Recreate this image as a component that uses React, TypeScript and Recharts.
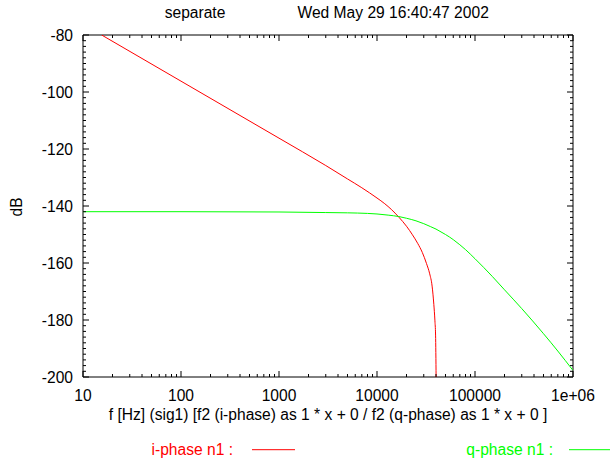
import { LineChart, Line, XAxis, YAxis, Legend, ReferenceArea } from "recharts";

// i-phase n1 (red)
const iPhaseFreq = [
  15.5, 100, 1000, 3000, 5000, 7000, 10000, 12000, 14000, 16700, 20000, 23000, 26000, 29000, 32000,
  34500, 36500, 38000, 39000, 39600, 40100,
];
const iPhaseDb = [
  -80, -96.2, -116.2, -125.8, -130.5, -133.6, -137.2, -139.2, -141.2, -143.9, -147.1, -150.1, -153.1, -156.3, -160.2,
  -163.8, -168.1, -174.5, -180.3, -185.3, -200,
];

// q-phase n1 (green)
const qPhaseFreq = [
  10, 100, 1000, 3000, 5000, 8000, 10000, 13000, 16700, 20000, 25000, 30000, 35000, 40000, 45000, 50000,
  60000, 70000, 80000, 100000, 150000, 200000, 300000, 500000, 700000, 1000000,
];
const qPhaseDb = [
  -142, -142, -142.1, -142.3, -142.4, -142.6, -142.8, -143.2, -143.7, -144.3, -145.2, -146.2, -147.2, -148.1, -149.1, -150.0,
  -151.8, -153.6, -155.3, -158.5, -164.7, -169.4, -176.0, -184.8, -190.9, -197.7,
];

const xMajorTicks = [10, 100, 1000, 10000, 100000, 1000000];
const xTickLabels = ["10", "100", "1000", "10000", "100000", "1e+06"];
const yMajorTicks = [-200, -180, -160, -140, -120, -100, -80];

const xTicks = xMajorTicks.flatMap((m, i) =>
  i === xMajorTicks.length - 1 ? [m] : [m, 2 * m, 3 * m, 4 * m, 5 * m, 6 * m, 7 * m, 8 * m, 9 * m]
);
const yTicks: number[] = [];
for (let v = -200; v <= -80; v += 2) yTicks.push(v);

const iPhase = iPhaseFreq.map((f, i) => ({ f, db: iPhaseDb[i] }));
const qPhase = qPhaseFreq.map((f, i) => ({ f, db: qPhaseDb[i] }));

const FONT = "'Liberation Sans', Arial, sans-serif";
const FS = 15.6;

const W = 610;
const H = 461;
const PLOT_TOP = 35;
const PLOT_RIGHT = 573;
const X_AXIS_H = 30;
const Y_AXIS_W = 60;
const margin = { top: PLOT_TOP, right: W - PLOT_RIGHT, bottom: 84 - X_AXIS_H, left: 83 - Y_AXIS_W };

// ticks point inward, mirrored on the top edge
function BottomTick(props: any) {
  const { x, y, payload } = props;
  const idx = xMajorTicks.indexOf(payload.value);
  const major = idx >= 0;
  const len = major ? 6 : 3;
  return (
    <g>
      <line x1={x} y1={y} x2={x} y2={y - len} stroke="#000" />
      <line x1={x} y1={PLOT_TOP} x2={x} y2={PLOT_TOP + len} stroke="#000" />
      {major && (
        <text x={x} y={y + 23.5} textAnchor="middle" fontFamily={FONT} fontSize={FS} fill="#000">
          {xTickLabels[idx]}
        </text>
      )}
    </g>
  );
}

// ticks point inward, mirrored on the right edge
function LeftTick(props: any) {
  const { x, y, payload } = props;
  const major = yMajorTicks.includes(payload.value);
  const len = major ? 6 : 3;
  return (
    <g>
      <line x1={x} y1={y} x2={x + len} y2={y} stroke="#000" />
      <line x1={PLOT_RIGHT} y1={y} x2={PLOT_RIGHT - len} y2={y} stroke="#000" />
      {major && (
        <text x={x - 10} y={y} dy="0.36em" textAnchor="end" fontFamily={FONT} fontSize={FS} fill="#000">
          {payload.value}
        </text>
      )}
    </g>
  );
}

const legendSpots = [
  { textEnd: 233, lineStart: 252, lineEnd: 295 },
  { textEnd: 553, lineStart: 569, lineEnd: 612 },
];

function KeyContent(props: any) {
  const payload = props.payload || [];
  return (
    <svg width={W} height={24} style={{ display: "block", overflow: "visible" }}>
      {payload.map((entry: any, i: number) => {
        const s = legendSpots[i];
        if (!s) return null;
        return (
          <g key={entry.value}>
            <text x={s.textEnd} y={15} textAnchor="end" fontFamily={FONT} fontSize={FS} fill={entry.color}>
              {entry.value + " :"}
            </text>
            <line x1={s.lineStart} y1={9.7} x2={s.lineEnd} y2={9.7} stroke={entry.color} />
          </g>
        );
      })}
    </svg>
  );
}

export default function App() {
  return (
    <div style={{ position: "absolute", left: 0, top: 0, width: W, height: H, background: "#fff" }}>
      <LineChart width={W} height={H} margin={margin}>
        <XAxis
          dataKey="f"
          type="number"
          scale="log"
          domain={[10, 1000000]}
          ticks={xTicks}
          interval={0}
          allowDataOverflow
          height={X_AXIS_H}
          tickSize={0}
          tickMargin={0}
          tickLine={false}
          axisLine={false}
          tick={<BottomTick />}
        />
        <YAxis
          type="number"
          domain={[-200, -80]}
          ticks={yTicks}
          interval={0}
          allowDataOverflow
          width={Y_AXIS_W}
          tickSize={0}
          tickMargin={0}
          tickLine={false}
          axisLine={false}
          tick={<LeftTick />}
        />
        <ReferenceArea
          x1={10}
          x2={1000000}
          y1={-200}
          y2={-80}
          fill="none"
          fillOpacity={0}
          stroke="#000"
          strokeWidth={1}
          ifOverflow="visible"
        />
        {/* middle + center keeps the key from eating into the plot area */}
        <Legend
          layout="horizontal"
          verticalAlign="middle"
          align="center"
          content={<KeyContent />}
          wrapperStyle={{ position: "absolute", left: 0, top: 440, width: W, height: 24 }}
        />
        <Line
          data={iPhase}
          dataKey="db"
          name="i-phase n1"
          type="monotone"
          stroke="#ff0000"
          strokeWidth={1}
          dot={false}
          isAnimationActive={false}
        />
        <Line
          data={qPhase}
          dataKey="db"
          name="q-phase n1"
          type="monotone"
          stroke="#00ff00"
          strokeWidth={1}
          dot={false}
          isAnimationActive={false}
        />
      </LineChart>
      <svg
        width={W}
        height={H}
        style={{ position: "absolute", left: 0, top: 0, pointerEvents: "none" }}
      >
        <text x={195} y={18} textAnchor="middle" fontFamily={FONT} fontSize={FS} fill="#000">
          separate
        </text>
        <text x={297.5} y={18} textAnchor="start" fontFamily={FONT} fontSize={FS} fill="#000">
          Wed May 29 16:40:47 2002
        </text>
        <text x={328} y={420} textAnchor="middle" fontFamily={FONT} fontSize={FS} fill="#000">
          f [Hz] (sig1) [f2 (i-phase) as 1 * x + 0 / f2 (q-phase) as 1 * x + 0 ]
        </text>
        <text
          x={21.5}
          y={207}
          textAnchor="middle"
          transform="rotate(-90 21.5 207)"
          fontFamily={FONT}
          fontSize={FS}
          fill="#000"
        >
          dB
        </text>
      </svg>
    </div>
  );
}
